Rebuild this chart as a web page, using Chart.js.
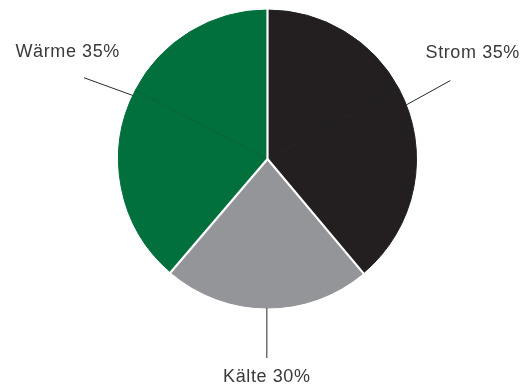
<!DOCTYPE html>
<html>
<head>
<meta charset="utf-8">
<script src="https://cdn.jsdelivr.net/npm/chart.js"></script>
<style>
html,body{margin:0;padding:0;background:#fff;}
</style>
</head>
<body>
<canvas id="pieChart" width="526" height="389"></canvas>
<script>
// slices as drawn (degrees, clockwise from 12 o'clock); Strom and Waerme are each split in two
const sliceNames = ['Strom','Strom','Kälte','Wärme','Wärme'];
const sliceValues = [62, 78, 80.5, 77, 62.5];
const groupNames = ['Strom','Kälte','Wärme'];
const groupLabels = ['Strom 35%','Kälte 30%','Wärme 35%'];

const colors = {'Strom':'#231f20','Kälte':'#939598','Wärme':'#02703c'};
// leader line / label styling per group
const labelStyle = {
    'Strom':{shift:-1.3, lx:44, ly:-24.3, tx:-24.8, ty:-22.4, align:'left'},
    'Kälte':{shift:0, lx:0, ly:50, tx:0, ty:24.5, align:'center'},
    'Wärme':{shift:5, lx:-48.7, ly:-17.7, tx:-16.3, ty:-21, align:'center'}
};

const outlinePlugin = {
    id:'outline',
    afterDatasetsDraw(chart){
        const ctx = chart.ctx;
        const arcs = chart.getDatasetMeta(0).data;
        ctx.save();
        // faint seams inside a group first, white separators between groups on top
        [true,false].forEach(pass=>{
            arcs.forEach((arc,i)=>{
                const p = arc.getProps(['x','y','startAngle','outerRadius']);
                const prev = sliceNames[(i+arcs.length-1)%arcs.length];
                const same = prev===sliceNames[i];
                if(same!==pass) return;
                const r = p.outerRadius + (same ? 0 : 1);
                ctx.beginPath();
                ctx.moveTo(p.x,p.y);
                ctx.lineTo(p.x+Math.cos(p.startAngle)*r, p.y+Math.sin(p.startAngle)*r);
                ctx.strokeStyle = same ? 'rgba(15,55,32,0.45)' : '#fff';
                ctx.lineWidth = same ? 0.5 : 2.2;
                ctx.stroke();
            });
        });

        // leader lines and labels
        ctx.font = '18px "Liberation Sans", Arial, sans-serif';
        ctx.letterSpacing = '0.6px';
        ctx.fillStyle = '#3a3a3a';
        ctx.textBaseline = 'alphabetic';
        groupNames.forEach((g,k)=>{
            const idx = sliceNames.map((n,i)=>n===g?i:-1).filter(i=>i>=0);
            const first = arcs[idx[0]].getProps(['x','y','startAngle','outerRadius']);
            const last = arcs[idx[idx.length-1]].getProps(['endAngle']);
            const st = labelStyle[g];
            const mid = (first.startAngle+last.endAngle)/2 + st.shift*Math.PI/180;
            const sx = first.x+Math.cos(mid)*first.outerRadius;
            const sy = first.y+Math.sin(mid)*first.outerRadius;
            const ex = sx+st.lx, ey = sy+st.ly;
            ctx.beginPath();
            ctx.moveTo(sx,sy);
            ctx.lineTo(ex,ey);
            ctx.strokeStyle = '#2a2a2a';
            ctx.lineWidth = 1;
            ctx.stroke();
            ctx.textAlign = st.align;
            ctx.fillText(groupLabels[k], ex+st.tx, ey+st.ty);
        });
        ctx.restore();
    }
};

const ctx1 = document.getElementById('pieChart');
new Chart(ctx1,{
    type:'pie',
    data:{
        labels:sliceNames,
        datasets:[{
            data:sliceValues,
            backgroundColor:sliceNames.map(n=>colors[n]),
            borderColor:sliceNames.map(n=>colors[n]),
            borderWidth:1
        }]
    },
    options:{
        responsive:false,
        animation:false,
        events:[],
        layout:{padding:{top:9.5,bottom:80.5,left:9,right:0}},
        plugins:{legend:{display:false},tooltip:{enabled:false}}
    },
    plugins:[outlinePlugin]
});
</script>
</body>
</html>
